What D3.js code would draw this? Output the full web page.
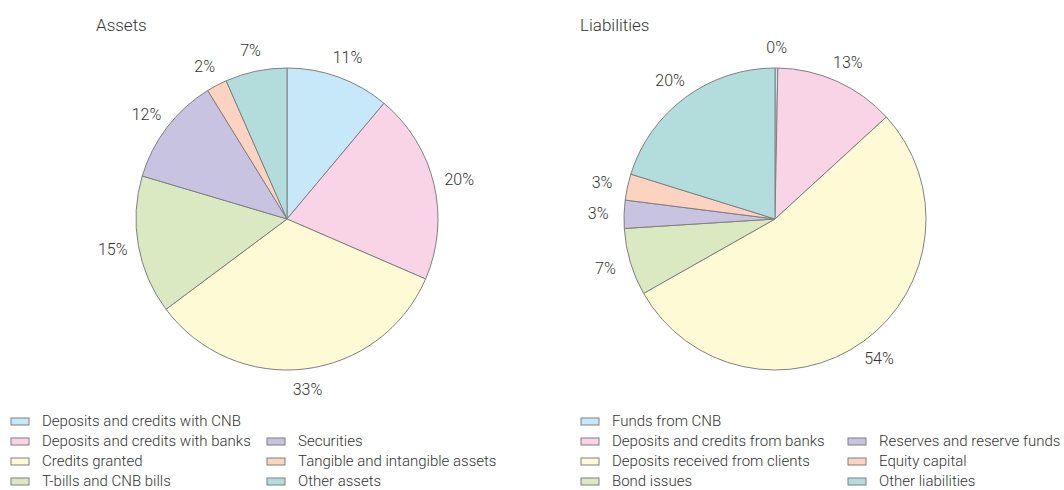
<!DOCTYPE html>
<html lang="en">
<head>
    <meta charset="UTF-8">
    <title>Assets and liabilities</title>
    <style>
        body { margin: 0; background: #fff; }
        svg text { font-family: Roboto, "Open Sans", sans-serif; font-weight: 300; fill: #333; }
    </style>
</head>
<body>
    <svg id="chart"></svg>

    <script src="https://cdnjs.cloudflare.com/ajax/libs/d3/7.8.5/d3.min.js"></script>
    <script>
// data, clockwise from 12 o'clock (shares in %)
const assetLabels = ['Deposits and credits with CNB', 'Deposits and credits with banks', 'Credits granted',
  'T-bills and CNB bills', 'Securities', 'Tangible and intangible assets', 'Other assets'];
const assetValues = [11.1, 20.4, 33.3, 14.8, 11.6, 2.2, 6.6];

const liabLabels = ['Funds from CNB', 'Deposits and credits from banks', 'Deposits received from clients',
  'Bond issues', 'Reserves and reserve funds', 'Equity capital', 'Other liabilities'];
const liabValues = [0.3, 12.9, 53.6, 7.2, 3.0, 2.8, 20.2];

const colors = ['#c6e8f8', '#f9d4e6', '#fffad6', '#dbe9c2', '#c7c3e1', '#fcd2c0', '#b2dddc'];

const width = 1064;
const height = 490;
const radius = 151;

const svg = d3.select('#chart')
  .attr('width', width)
  .attr('height', height);

const pie = d3.pie().sort(null).value(d => d);
const arc = d3.arc().innerRadius(0).outerRadius(radius);

function drawPie(title, values, labels, cx, cy, titleX, legendX, col2X) {
  const g = svg.append('g').attr('transform', `translate(${cx},${cy})`);

  svg.append('text')
    .attr('x', titleX)
    .attr('y', 31)
    .style('font-size', '17px')
    .text(title);

  const arcs = pie(values);

  g.selectAll('path')
    .data(arcs)
    .enter().append('path')
    .attr('d', arc)
    .attr('fill', (d, i) => colors[i])
    .attr('stroke', '#808080')
    .attr('stroke-width', 1);

  // labels just outside the rim
  const gap = 11;
  g.selectAll('text.lbl')
    .data(arcs)
    .enter().append('text')
    .attr('class', 'lbl')
    .attr('text-anchor', 'middle')
    .attr('dominant-baseline', 'central')
    .style('font-size', '16px')
    .attr('x', d => {
      const a = (d.startAngle + d.endAngle) / 2;
      return Math.sin(a) * (radius + gap + 15);
    })
    .attr('y', d => {
      const a = (d.startAngle + d.endAngle) / 2;
      return -Math.cos(a) * (radius + gap + 10);
    })
    .text(d => Math.round(d.data) + '%');

  // legend: first four in column 1, remaining three in column 2 from row 2
  const rowY = d3.scaleLinear().domain([0, 1]).range([421, 441]);
  const leg = svg.append('g');
  labels.forEach((name, i) => {
    const col = i < 4 ? 0 : 1;
    const row = i < 4 ? i : i - 3;
    const x = col === 0 ? legendX : col2X;
    const y = rowY(row);
    leg.append('rect')
      .attr('x', x)
      .attr('y', y - 3)
      .attr('width', 18)
      .attr('height', 7)
      .attr('fill', colors[i])
      .attr('stroke', '#808080')
      .attr('stroke-width', 1);
    leg.append('text')
      .attr('x', x + 31)
      .attr('y', y)
      .attr('dominant-baseline', 'central')
      .style('font-size', '15px')
      .text(name);
  });
}

drawPie('Assets', assetValues, assetLabels, 287, 219, 96, 11, 267);
drawPie('Liabilities', liabValues, liabLabels, 775, 219, 580, 581, 848);
    </script>
</body>
</html>
